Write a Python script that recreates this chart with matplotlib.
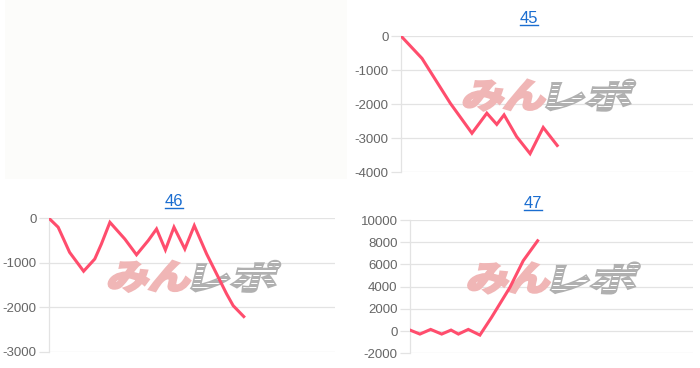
import matplotlib
matplotlib.use("Agg")
import matplotlib.pyplot as plt
from matplotlib.patches import Rectangle, PathPatch
from matplotlib.textpath import TextPath
from matplotlib.font_manager import FontProperties
from matplotlib.lines import Line2D
import matplotlib.transforms as mtransforms

# 各グラフのデータ（横軸は 0〜100 の進行度、縦軸は差枚）
x45 = [0, 7.2, 16.9, 24.3, 29.4, 32.8, 35.3, 39.6, 44.2, 48.7, 53.5]
y45 = [0, -660, -1980, -2860, -2270, -2600, -2320, -2960, -3460, -2690, -3220]

x46 = [0, 3.2, 7.2, 12.1, 16.0, 18.3, 21.3, 26.5, 30.6, 34.7, 37.6, 40.7,
       43.7, 47.5, 50.8, 55.1, 58.6, 62.1, 64.4, 68.1]
y46 = [0, -200, -765, -1190, -915, -580, -90, -465, -820, -500, -240, -710,
       -200, -690, -165, -800, -1250, -1700, -1965, -2210]

x47 = [0, 3.5, 7.3, 11.2, 14.5, 17.1, 20.6, 24.7, 28.8, 35.3, 40.0, 45.1]
y47 = [90, -270, 150, -270, 90, -270, 150, -360, 1230, 3930, 6330, 8130]

ticks45 = [0, -1000, -2000, -3000, -4000]
ticks46 = [0, -1000, -2000, -3000]
ticks47 = [-2000, 0, 2000, 4000, 6000, 8000, 10000]

LINE = "#ff4d6d"
GRID = "#e3e3e3"
TICK = "#666666"
TITLE = "#1a6dd0"

W, H = 700, 368
fig = plt.figure(figsize=(W / 100, H / 100), dpi=100)
fig.patch.set_facecolor("white")

# 左上の空パネル
fig.patches.append(Rectangle((5 / W, 1 - 179 / H), 342 / W, 179 / H,
                             transform=fig.transFigure, facecolor="#fcfcfa",
                             edgecolor="none", zorder=0))


def px_axes(left, right, top, bottom):
    return fig.add_axes([left / W, 1 - bottom / H, (right - left) / W, (bottom - top) / H])


def draw_logo(ax):
    fp = FontProperties(family="Noto Sans CJK JP", weight="bold")
    base = mtransforms.Affine2D().scale(1 / 100) + fig.dpi_scale_trans + \
        mtransforms.ScaledTranslation(0.49, 0.565, ax.transAxes)
    parts = [("みん", "#f0b6b6", -82, 80), ("レポ", "#b0b0b0", 2, 82)]
    for txt, col, x0, wpx in parts:
        tp = TextPath((0, 0), txt, size=1, prop=fp)
        ext = tp.get_extents()
        sx = wpx / ext.width
        sy = 30 / ext.height
        tr = mtransforms.Affine2D().translate(-ext.x0, -ext.y0).scale(sx, sy) \
            .skew_deg(14, 0).translate(x0, -15)
        patch = PathPatch(tr.transform_path(tp), facecolor=col, edgecolor=col,
                          lw=2.2, joinstyle="miter", transform=base, zorder=1)
        ax.add_patch(patch)
        if txt == "レポ":
            for k in range(7):
                r = Rectangle((x0 - 5, -15 + 3 + k * 4.2), wpx + 20, 1.2,
                              facecolor="white", edgecolor="none",
                              transform=base, zorder=1.1)
                r.set_clip_path(patch)
                ax.add_patch(r)


def setup(ax, xs, ys, ticks, ylim):
    ax.plot(xs, ys, color=LINE, lw=2.2, solid_joinstyle="miter", zorder=3)
    ax.set_xlim(0, 100)
    ax.set_ylim(*ylim)
    ax.set_yticks(ticks)
    ax.set_yticklabels([str(t) for t in ticks])
    ax.set_xticks([])
    for s in ["top", "right", "bottom"]:
        ax.spines[s].set_visible(False)
    ax.spines["left"].set_color(GRID)
    ax.spines["left"].set_linewidth(0.9)
    ax.grid(axis="y", color=GRID, lw=0.9)
    ax.set_axisbelow(True)
    ax.tick_params(axis="y", length=7, width=0.9, color=GRID, pad=2,
                   labelsize=9.5, labelcolor=TICK)
    for lab in ax.get_yticklabels():
        lab.set_fontfamily("Liberation Sans")
    ax.patch.set_alpha(0)
    draw_logo(ax)


ax45 = px_axes(401, 693, 36, 172)
setup(ax45, x45, y45, ticks45, (-4000, 0))
ax46 = px_axes(49, 335, 218.3, 351.7)
setup(ax46, x46, y46, ticks46, (-3000, 0))
ax47 = px_axes(410, 693, 220, 353.3)
setup(ax47, x47, y47, ticks47, (-2000, 10000))

titles = [("45", 529, 17), ("46", 174, 200.5), ("47", 533, 202)]
fig.canvas.draw()
renderer = fig.canvas.get_renderer()
for label, cx, cy in titles:
    t = fig.text(cx / W, 1 - cy / H, label, ha="center", va="center_baseline",
                 fontsize=12, color=TITLE, family="Liberation Sans")
    bb = t.get_window_extent(renderer)
    yline = bb.y0 + 1.5
    fig.add_artist(Line2D([bb.x0 / W, bb.x1 / W], [yline / H, yline / H],
                          transform=fig.transFigure, color=TITLE, lw=1))

fig.savefig("out.png", dpi=100)
